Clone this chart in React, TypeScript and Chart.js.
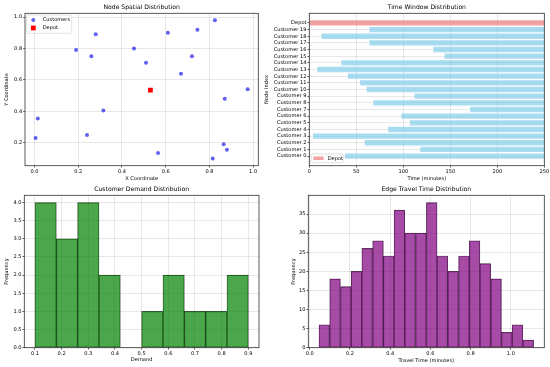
import React, { useEffect, useRef } from 'react';
import { Chart, registerables } from 'chart.js';

Chart.register(...registerables);

// ---------------- Data ----------------
const customerX = [0.19, 0.28, 0.26, 0.455, 0.51, 0.61, 0.745, 0.825, 0.72, 0.67, 0.975, 0.87, 0.315, 0.015, 0.005, 0.24, 0.565, 0.865, 0.88, 0.815];
const customerY = [0.79, 0.89, 0.75, 0.8, 0.71, 0.9, 0.92, 0.98, 0.75, 0.64, 0.54, 0.48, 0.405, 0.355, 0.23, 0.25, 0.135, 0.19, 0.155, 0.1];
const depotX = 0.53;
const depotY = 0.535;

const nodeLabels = [
  'Customer 0', 'Customer 1', 'Customer 2', 'Customer 3', 'Customer 4', 'Customer 5', 'Customer 6',
  'Customer 7', 'Customer 8', 'Customer 9', 'Customer 10', 'Customer 11', 'Customer 12', 'Customer 13',
  'Customer 14', 'Customer 15', 'Customer 16', 'Customer 17', 'Customer 18', 'Customer 19', 'Depot',
];
const windowStart = [38, 118, 59, 4, 84, 107, 98, 171, 68, 112, 61, 54, 41, 8.5, 34, 144, 132, 64, 13, 64, 0];
const windowEnd = [250, 250, 250, 250, 250, 250, 250, 250, 250, 250, 250, 250, 250, 250, 250, 250, 250, 250, 250, 250, 250];

const demandEdges = [0.1, 0.18, 0.26, 0.34, 0.42, 0.5, 0.58, 0.66, 0.74, 0.82, 0.9];
const demandCounts = [4, 3, 4, 2, 0, 1, 2, 1, 1, 2];

const travelEdges = [0.046, 0.099, 0.153, 0.206, 0.259, 0.313, 0.366, 0.419, 0.473, 0.526, 0.58, 0.633, 0.686, 0.74, 0.793, 0.846, 0.9, 0.953, 1.006, 1.06, 1.113];
const travelCounts = [6, 18, 16, 20, 26, 28, 24, 36, 30, 30, 38, 24, 20, 24, 28, 22, 18, 4, 6, 2];

const scatterXTicks = [0, 0.2, 0.4, 0.6, 0.8, 1.0];
const scatterYTicks = [0.2, 0.4, 0.6, 0.8, 1.0];
const timeXTicks = [0, 50, 100, 150, 200, 250];
const nodeTicks = [0, 1, 2, 3, 4, 5, 6, 7, 8, 9, 10, 11, 12, 13, 14, 15, 16, 17, 18, 19, 20];
const demandXTicks = [0.1, 0.2, 0.3, 0.4, 0.5, 0.6, 0.7, 0.8, 0.9];
const demandYTicks = [0, 0.5, 1.0, 1.5, 2.0, 2.5, 3.0, 3.5, 4.0];
const travelXTicks = [0, 0.2, 0.4, 0.6, 0.8, 1.0];
const travelYTicks = [0, 5, 10, 15, 20, 25, 30, 35];

// ---------------- Styles ----------------
const FONT = "'DejaVu Sans', sans-serif";
const TITLE_SIZE = 6.1;
const LABEL_SIZE = 5.1;
const TICK_SIZE = 5.1;
const TEXT = '#000000';
const GRID = 'rgba(0,0,0,0.12)';
const TICK = '#333333';
const SPINE = '#333333';
const CUST = 'rgba(20,20,235,0.68)';
const DEPOT_RED = '#ff0000';
const SKY = 'rgba(135,206,235,0.72)';
const CORAL = 'rgba(240,128,128,0.72)';
const GREEN = 'rgba(0,128,0,0.7)';
const PURPLE = 'rgba(128,0,128,0.7)';
const EDGE = 'rgba(0,0,0,0.7)';

type Area = { cl: number; ct: number; cw: number; ch: number; L: number; R: number; T: number; B: number; titleY: number; yTitleX: number; xTitleY: number };

const A_TL: Area = { cl: 0, ct: 0, cw: 275, ch: 183, L: 25, R: 258.3, T: 13.3, B: 165.7, titleY: 7.3, yTitleX: 6.7, xTitleY: 179 };
const A_TR: Area = { cl: 260, ct: 0, cw: 290, ch: 183, L: 49.3, R: 284.3, T: 13.3, B: 165.7, titleY: 7.3, yTitleX: 6.7, xTitleY: 179 };
const A_BL: Area = { cl: 0, ct: 183, cw: 275, ch: 184, L: 24.3, R: 259, T: 12.3, B: 164.7, titleY: 6.3, yTitleX: 6.7, xTitleY: 177 };
const A_BR: Area = { cl: 260, ct: 183, cw: 290, ch: 184, L: 48.3, R: 284.3, T: 12.3, B: 164.7, titleY: 6.3, yTitleX: 34, xTitleY: 177.5 };

const f1 = (v: number) => v.toFixed(1);
const f0 = (v: number) => String(Math.round(v));

function baseOptions(a: Area, title: string): any {
  const lh = TITLE_SIZE * 1.2;
  const pt = a.titleY - lh / 2;
  return {
    responsive: false,
    animation: false,
    devicePixelRatio: 1,
    layout: { padding: { left: 0, top: 0, bottom: 0, right: a.cw - a.R } },
    plugins: {
      legend: { display: false },
      tooltip: { enabled: false },
      title: {
        display: true,
        text: title,
        fullSize: false,
        color: TEXT,
        font: { family: FONT, size: TITLE_SIZE, weight: 'normal' },
        padding: { top: pt, bottom: a.T - lh - pt },
      },
    },
  };
}

function linAxis(kind: 'x' | 'y', a: Area, min: number, max: number, ticks: number[], fmt: (v: number) => string, title: string): any {
  const isX = kind === 'x';
  const lh = LABEL_SIZE * 1.2;
  return {
    type: 'linear',
    position: isX ? 'bottom' : 'left',
    min,
    max,
    offset: false,
    afterBuildTicks: (ax: any) => {
      ax.ticks = ticks.map((v) => ({ value: v }));
    },
    afterFit: (ax: any) => {
      if (isX) {
        ax.height = a.ch - a.B;
        ax.paddingLeft = 0;
        ax.paddingRight = 0;
      } else {
        ax.width = a.L;
        ax.paddingTop = 0;
        ax.paddingBottom = 0;
      }
    },
    ticks: {
      font: { family: FONT, size: TICK_SIZE },
      color: TEXT,
      padding: isX ? 1.6 : 1.0,
      autoSkip: false,
      maxRotation: 0,
      minRotation: 0,
      callback: (v: any) => fmt(Number(v)),
    },
    grid: { offset: false, color: GRID, lineWidth: 0.8, drawTicks: true, tickLength: 1.8, tickColor: TICK, tickWidth: 0.8 },
    border: { display: false },
    title: {
      display: true,
      text: title,
      color: TEXT,
      font: { family: FONT, size: LABEL_SIZE },
      padding: isX ? { top: 0, bottom: a.ch - a.xTitleY - lh / 2 } : { top: a.yTitleX - lh / 2, bottom: 0 },
    },
  };
}

const framePlugin = {
  id: 'frame',
  afterDraw(chart: any) {
    const { ctx, chartArea } = chart;
    const { left, top, right, bottom } = chartArea;
    ctx.save();
    ctx.strokeStyle = SPINE;
    ctx.lineWidth = 0.8;
    ctx.strokeRect(left, top, right - left, bottom - top);
    ctx.restore();
  },
};

type LegendItem = { label: string; kind: 'circle' | 'square' | 'patch'; color: string };

function legendPlugin(
  id: string,
  items: LegendItem[],
  place: (area: any) => { x: number; y: number; w: number; h: number; markerX: number; textX: number; rows: number[] }
) {
  return {
    id,
    afterDraw(chart: any) {
      const { ctx, chartArea } = chart;
      const p = place(chartArea);
      ctx.save();
      ctx.beginPath();
      const r = 1.2;
      ctx.moveTo(p.x + r, p.y);
      ctx.arcTo(p.x + p.w, p.y, p.x + p.w, p.y + p.h, r);
      ctx.arcTo(p.x + p.w, p.y + p.h, p.x, p.y + p.h, r);
      ctx.arcTo(p.x, p.y + p.h, p.x, p.y, r);
      ctx.arcTo(p.x, p.y, p.x + p.w, p.y, r);
      ctx.closePath();
      ctx.fillStyle = 'rgba(255,255,255,0.8)';
      ctx.fill();
      ctx.strokeStyle = '#cfcfcf';
      ctx.lineWidth = 0.6;
      ctx.stroke();
      items.forEach((it, i) => {
        const cy = p.rows[i];
        ctx.fillStyle = it.color;
        if (it.kind === 'circle') {
          ctx.beginPath();
          ctx.arc(p.markerX, cy, 2.0, 0, Math.PI * 2);
          ctx.fill();
        } else if (it.kind === 'square') {
          ctx.fillRect(p.markerX - 2.4, cy - 2.4, 4.8, 4.8);
        } else {
          ctx.fillRect(p.markerX - 5.1, cy - 1.8, 10.2, 3.6);
        }
        ctx.fillStyle = TEXT;
        ctx.font = `${LABEL_SIZE}px ${FONT}`;
        ctx.textBaseline = 'middle';
        ctx.textAlign = 'left';
        ctx.fillText(it.label, p.textX, cy);
      });
      ctx.restore();
    },
  };
}

// ---------------- Chart configs ----------------
function scatterConfig(): any {
  const a = A_TL;
  const opts = baseOptions(a, 'Node Spatial Distribution');
  opts.scales = {
    x: linAxis('x', a, -0.0435, 1.0235, scatterXTicks, f1, 'X Coordinate'),
    y: linAxis('y', a, 0.054, 1.024, scatterYTicks, f1, 'Y Coordinate'),
  };
  return {
    type: 'scatter',
    data: {
      datasets: [
        { label: 'Depot', data: [{ x: depotX, y: depotY }], pointStyle: 'rect', pointRadius: 3.4, pointHoverRadius: 3.4, backgroundColor: DEPOT_RED, borderWidth: 0 },
        {
          label: 'Customers',
          data: customerX.map((x, i) => ({ x, y: customerY[i] })),
          pointStyle: 'circle',
          pointRadius: 2.0,
          pointHoverRadius: 2.0,
          backgroundColor: CUST,
          borderWidth: 0,
        },
      ],
    },
    options: opts,
    plugins: [
      framePlugin,
      legendPlugin(
        'legTL',
        [
          { label: 'Customers', kind: 'circle', color: CUST },
          { label: 'Depot', kind: 'square', color: DEPOT_RED },
        ],
        (ca) => ({ x: ca.left + 1.7, y: ca.top + 1.7, w: 45, h: 18.3, markerX: ca.left + 8.3, textX: ca.left + 17.7, rows: [ca.top + 6.7, ca.top + 14.7] })
      ),
    ],
  };
}

function timeConfig(): any {
  const a = A_TR;
  const opts = baseOptions(a, 'Time Window Distribution');
  opts.indexAxis = 'y';
  opts.scales = {
    x: linAxis('x', a, 0, 250, timeXTicks, f0, 'Time (minutes)'),
    y: linAxis('y', a, -1.44, 21.44, nodeTicks, (v) => nodeLabels[Math.round(v)] ?? '', 'Node Index'),
  };
  const custIdx = nodeLabels.map((l, i) => i).filter((i) => nodeLabels[i] !== 'Depot');
  const depotIdx = nodeLabels.indexOf('Depot');
  return {
    type: 'bar',
    data: {
      datasets: [
        {
          label: 'Customers',
          data: custIdx.map((i) => ({ x: [windowStart[i], windowEnd[i]], y: i })),
          backgroundColor: SKY,
          borderWidth: 0,
          grouped: false,
          barPercentage: 0.8,
          categoryPercentage: 1,
        },
        {
          label: 'Depot',
          data: [{ x: [windowStart[depotIdx], windowEnd[depotIdx]], y: depotIdx }],
          backgroundColor: CORAL,
          borderWidth: 0,
          grouped: false,
          barPercentage: 0.8,
          categoryPercentage: 1,
        },
      ],
    },
    options: opts,
    plugins: [
      framePlugin,
      legendPlugin('legTR', [{ label: 'Depot', kind: 'patch', color: CORAL }], (ca) => ({
        x: ca.left + 1.7,
        y: ca.bottom - 11.7,
        w: 32.3,
        h: 8.7,
        markerX: ca.left + 9.2,
        textX: ca.left + 18.4,
        rows: [ca.bottom - 7.4],
      })),
    ],
  };
}

function histConfig(a: Area, title: string, edges: number[], counts: number[], color: string, xr: [number, number], yr: [number, number], xt: number[], yt: number[], xfmt: (v: number) => string, yfmt: (v: number) => string, xTitle: string): any {
  const opts = baseOptions(a, title);
  opts.scales = {
    x: linAxis('x', a, xr[0], xr[1], xt, xfmt, xTitle),
    y: linAxis('y', a, yr[0], yr[1], yt, yfmt, 'Frequency'),
  };
  return {
    type: 'bar',
    data: {
      datasets: [
        {
          label: title,
          data: counts.map((c, i) => ({ x: (edges[i] + edges[i + 1]) / 2, y: c })),
          backgroundColor: color,
          borderColor: EDGE,
          borderWidth: 0.5,
          borderSkipped: false,
          barPercentage: 1,
          categoryPercentage: 1,
        },
      ],
    },
    options: opts,
    plugins: [framePlugin],
  };
}

function ChartCanvas({ area, make }: { area: Area; make: () => any }) {
  const ref = useRef<HTMLCanvasElement>(null);
  useEffect(() => {
    const chart = new Chart(ref.current as HTMLCanvasElement, make());
    return () => chart.destroy();
  }, []);
  return (
    <canvas
      ref={ref}
      width={area.cw}
      height={area.ch}
      style={{ position: 'absolute', left: area.cl, top: area.ct, width: area.cw, height: area.ch }}
    />
  );
}

export default function App() {
  return (
    <div style={{ position: 'fixed', left: 0, top: 0, width: 550, height: 367, background: '#ffffff', overflow: 'hidden' }}>
      <ChartCanvas area={A_TL} make={scatterConfig} />
      <ChartCanvas area={A_TR} make={timeConfig} />
      <ChartCanvas
        area={A_BL}
        make={() =>
          histConfig(A_BL, 'Customer Demand Distribution', demandEdges, demandCounts, GREEN, [0.06, 0.94], [0, 4.2], demandXTicks, demandYTicks, f1, f1, 'Demand')
        }
      />
      <ChartCanvas
        area={A_BR}
        make={() =>
          histConfig(A_BR, 'Edge Travel Time Distribution', travelEdges, travelCounts, PURPLE, [-0.007, 1.166], [0, 39.9], travelXTicks, travelYTicks, f1, f0, 'Travel Time (minutes)')
        }
      />
    </div>
  );
}
